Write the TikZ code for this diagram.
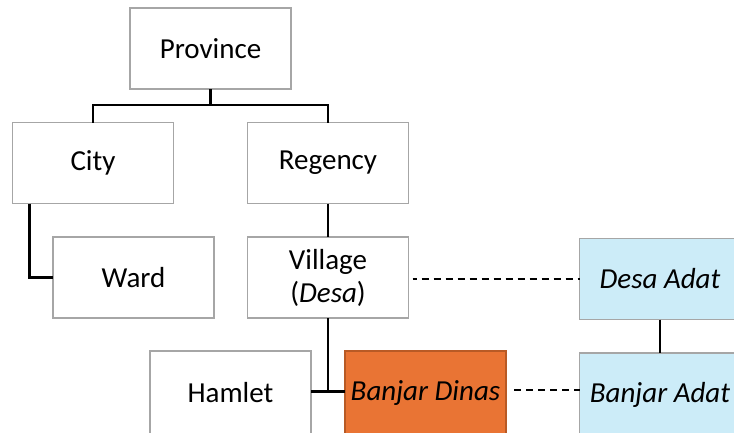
\documentclass[tikz,border=0pt]{standalone}
\usepackage{fontspec}
\setmainfont{Carlito}
\definecolor{boxline}{HTML}{A6A6A6}
\definecolor{dinasfill}{HTML}{E97434}
\definecolor{dinasline}{HTML}{B85A25}
\definecolor{adatfill}{HTML}{CCECF8}
\begin{document}
\begin{tikzpicture}[x=1pt,y=-1pt,
  unit/.style={draw=boxline,line width=1.3pt,fill=white,rectangle,
    minimum width=161pt,minimum height=81pt,inner sep=0pt,outer sep=0pt,
    align=center,font=\fontsize{29}{33}\selectfont},
  lowunit/.style={unit,minimum height=84pt},
  dinas/.style={lowunit,fill=dinasfill,draw=dinasline},
  adat/.style={unit,fill=adatfill},
  lowadat/.style={lowunit,fill=adatfill},
  tie/.style={line width=2.8pt,black},
  custom/.style={line width=1.6pt,black,dash pattern=on 7pt off 5pt}]
  \useasboundingbox (0,0) rectangle (734,432);
  \clip (0,0) rectangle (734,432);

  % administrative hierarchy
  \node[unit] (prov)    at (210.5,48.5) {Province};
  \node[unit] (city)    at (93,163)     {City};
  \node[unit] (regency) at (328,163)    {Regency};
  \node[unit] (ward)    at (133.5,277.5){Ward};
  \node[unit] (village) at (328,277.5)  {Village\\(\textit{Desa})};
  \node[lowunit] (hamlet) at (230.5,393){Hamlet};
  \node[dinas] (bdinas) at (425.5,393)  {\textit{Banjar Dinas}};

  % customary hierarchy
  \node[adat] (dadat)    at (660,279) {\textit{Desa Adat}};
  \node[lowadat] (badat) at (660,395) {\textit{Banjar Adat}};

  % tree links
  \coordinate (pj) at (210.5,105);
  \draw[tie] (prov.south) -- (pj);
  \draw[tie] (city.north) |- (pj) -| (regency.north);
  \draw[tie] ([xshift=17pt]city.south west) |- (ward.west);
  \draw[tie] (regency.south) -- (village.north);
  \coordinate (hj) at (328,391.5);
  \draw[tie] (village.south) -- (hj);
  \draw[tie] (hamlet.east |- hj) -- (bdinas.west |- hj);
  \draw[tie] (dadat.south) -- (badat.north);

  % correspondence between the two systems
  \draw[custom,dash phase=3pt] ([xshift=4pt]village.east |- dadat.west) -- (dadat.west);
  \draw[custom,dash phase=0pt] ([xshift=8pt]bdinas.east |- 0,390) -- (badat.west |- 0,390);
\end{tikzpicture}
\end{document}
